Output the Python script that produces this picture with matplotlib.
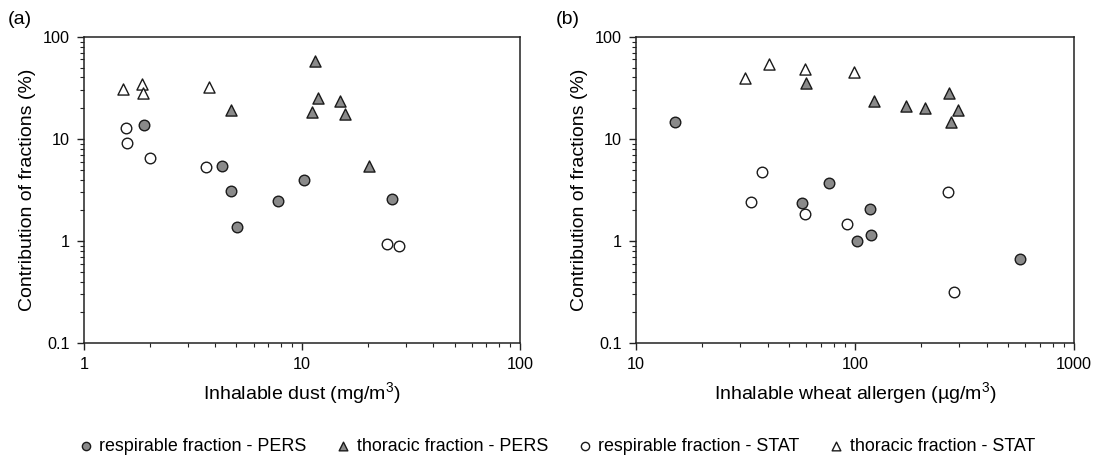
import matplotlib
matplotlib.use("Agg")
import matplotlib.pyplot as plt
from matplotlib.ticker import LogLocator, FuncFormatter, NullFormatter

plt.rcParams["font.family"] = ["Liberation Sans", "DejaVu Sans"]
plt.rcParams["mathtext.fontset"] = "custom"
plt.rcParams["mathtext.rm"] = "Liberation Sans"

# ---------------------------------------------------------
# DATA  panel (a): inhalable dust (mg/m3) vs contribution (%)
# ---------------------------------------------------------
a_resp_pers_x = [1.89, 4.28, 4.74, 5.05, 7.75, 10.2, 25.8]
a_resp_pers_y = [13.6, 5.41, 3.07, 1.38, 2.48, 4.0, 2.56]
a_thor_pers_x = [4.70, 11.5, 11.8, 11.1, 15.0, 15.8, 20.3]
a_thor_pers_y = [19.4, 57.5, 24.9, 18.4, 23.6, 17.6, 5.37]
a_resp_stat_x = [1.56, 1.57, 2.0, 3.64, 24.6, 27.8]
a_resp_stat_y = [12.8, 9.04, 6.43, 5.33, 0.944, 0.90]
a_thor_stat_x = [1.51, 1.84, 1.87, 3.76]
a_thor_stat_y = [30.5, 34.9, 28.3, 32.2]

# panel (b): inhalable wheat allergen (ug/m3) vs contribution (%)
b_resp_pers_x = [15.0, 57.4, 76.4, 102, 117, 118, 569]
b_resp_pers_y = [14.6, 2.36, 3.68, 0.99, 2.06, 1.15, 0.66]
b_thor_pers_x = [59.7, 122, 171, 208, 268, 275, 294]
b_thor_pers_y = [35.2, 23.4, 21.2, 20.0, 28.4, 14.6, 19.1]
b_resp_stat_x = [33.5, 37.5, 59.2, 91.6, 267, 283]
b_resp_stat_y = [2.39, 4.78, 1.83, 1.48, 3.0, 0.314]
b_thor_stat_x = [31.4, 40.6, 59.1, 98.9]
b_thor_stat_y = [39.9, 54.0, 48.6, 45.1]

LABELS = ["respirable fraction - PERS", "thoracic fraction - PERS",
          "respirable fraction - STAT", "thoracic fraction - STAT"]

GRAY = "#8a8a8a"
EDGE = "#1a1a1a"
STYLES = [("o", GRAY), ("^", GRAY), ("o", "white"), ("^", "white")]

# ---------------------------------------------------------
# PLOT
# ---------------------------------------------------------
fig = plt.figure(figsize=(10.96, 4.59), dpi=100)
ax_a = fig.add_axes([0.0766, 0.2527, 0.398, 0.667])
ax_b = fig.add_axes([0.5803, 0.2527, 0.3996, 0.667])

fmt = FuncFormatter(lambda v, p: f"{v:g}")

def draw_panel(ax, series, xlim, xlabel):
    handles = []
    for (xs, ys), (mk, fc), lab in zip(series, STYLES, LABELS):
        size = 64 if mk == "^" else 58
        h = ax.scatter(xs, ys, marker=mk, s=size, facecolor=fc,
                       edgecolor=EDGE, linewidth=1.0, label=lab, zorder=3)
        handles.append(h)
    ax.set_xscale("log")
    ax.set_yscale("log")
    ax.set_xlim(*xlim)
    ax.set_ylim(0.1, 100)
    for axis in (ax.xaxis, ax.yaxis):
        axis.set_major_locator(LogLocator(base=10))
        axis.set_minor_locator(LogLocator(base=10, subs=range(2, 10)))
        axis.set_major_formatter(fmt)
        axis.set_minor_formatter(NullFormatter())
    ax.tick_params(which="major", direction="out", length=5, width=1.0,
                   labelsize=11.7, color="#222222", pad=5)
    ax.tick_params(which="minor", direction="out", length=3, width=0.8,
                   color="#222222")
    for sp in ax.spines.values():
        sp.set_linewidth(1.1)
        sp.set_color("#222222")
    ax.set_ylabel("Contribution of fractions (%)", fontsize=14, labelpad=5)
    ax.set_xlabel(xlabel, fontsize=14, labelpad=6)
    return handles

handles = draw_panel(ax_a,
                     [(a_resp_pers_x, a_resp_pers_y), (a_thor_pers_x, a_thor_pers_y),
                      (a_resp_stat_x, a_resp_stat_y), (a_thor_stat_x, a_thor_stat_y)],
                     (1, 100), "Inhalable dust (mg/m$^3$)")
draw_panel(ax_b,
           [(b_resp_pers_x, b_resp_pers_y), (b_thor_pers_x, b_thor_pers_y),
            (b_resp_stat_x, b_resp_stat_y), (b_thor_stat_x, b_thor_stat_y)],
           (10, 1000), "Inhalable wheat allergen (\u00b5g/m$^3$)")

fig.text(0.007, 0.957, "(a)", fontsize=14, va="center")
fig.text(0.507, 0.957, "(b)", fontsize=14, va="center")

leg = fig.legend(handles=handles, labels=LABELS, loc="center",
                 bbox_to_anchor=(0.508, 0.027), ncol=4, frameon=False,
                 fontsize=12.9, handlelength=0.8, handletextpad=0.35,
                 columnspacing=1.65, markerscale=0.78, scatterpoints=1)

fig.savefig("out.png", dpi=100)
plt.close(fig)
